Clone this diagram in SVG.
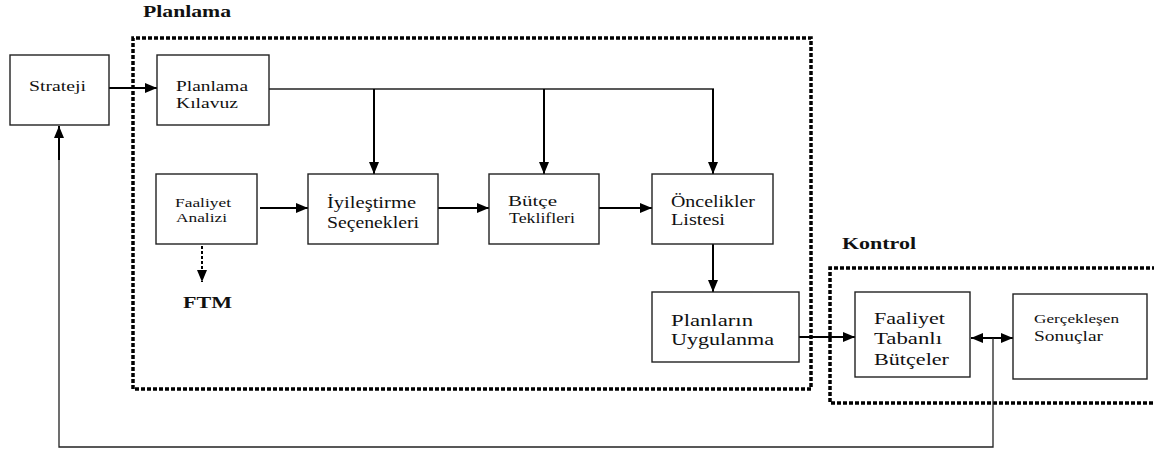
<svg xmlns="http://www.w3.org/2000/svg" width="1154" height="453" viewBox="0 0 1154 453">
  <defs>
    <marker id="ah" viewBox="0 0 12 10" refX="12" refY="5" markerWidth="12" markerHeight="10" orient="auto-start-reverse" markerUnits="userSpaceOnUse">
      <path d="M0,0 L12,5 L0,10 z" fill="#000"/>
    </marker>
  </defs>
  <style>
    .box { fill: #fff; stroke: #222; stroke-width: 1.4; }
    .frame { fill: none; stroke: #000; stroke-width: 3.5; stroke-dasharray: 4 2; }
    .t { font-family: "Liberation Serif", "DejaVu Serif", "Times New Roman", serif; fill: #111; }
    .title { font-family: "Liberation Serif", "DejaVu Serif", "Times New Roman", serif; font-weight: bold; fill: #111; }
    .arr { fill: none; stroke: #000; stroke-width: 2; }
    .thin { fill: none; stroke: #222; stroke-width: 1.3; }
  </style>

  <rect width="1154" height="453" fill="#fff"/>

  <!-- section frames -->
  <g id="frame-planlama">
    <path class="frame" d="M133,389 L133,38 L811,38 L811,389 Z"/>
    <text class="title" font-family="Liberation Serif, DejaVu Serif, serif" x="143" y="17" font-size="16" textLength="88" lengthAdjust="spacingAndGlyphs">Planlama</text>
  </g>
  <g id="frame-kontrol">
    <path class="frame" d="M1156,268 L830,268 L830,403 L1156,403"/>
    <text class="title" font-family="Liberation Serif, DejaVu Serif, serif" x="842" y="249" font-size="16" textLength="74" lengthAdjust="spacingAndGlyphs">Kontrol</text>
  </g>

  <!-- connectors -->
  <g id="connectors">
    <line class="arr" x1="109" y1="88" x2="157" y2="88" marker-end="url(#ah)"/>
    <line class="thin" x1="269" y1="89" x2="714" y2="89"/>
    <line class="arr" x1="374" y1="89" x2="374" y2="174" marker-end="url(#ah)"/>
    <line class="arr" x1="544" y1="89" x2="544" y2="174" marker-end="url(#ah)"/>
    <line class="arr" x1="713" y1="89" x2="713" y2="174" marker-end="url(#ah)"/>
    <line class="arr" x1="260" y1="208" x2="308" y2="208" marker-end="url(#ah)"/>
    <line class="arr" x1="438" y1="208" x2="489" y2="208" marker-end="url(#ah)"/>
    <line class="arr" x1="599" y1="208" x2="652" y2="208" marker-end="url(#ah)"/>
    <line class="arr" x1="713" y1="244" x2="713" y2="292" marker-end="url(#ah)"/>
    <line class="arr" x1="202" y1="246" x2="202" y2="282" stroke-width="3" stroke-dasharray="3 2" marker-end="url(#ah)"/>
    <line class="arr" x1="799" y1="337" x2="855" y2="337" marker-end="url(#ah)"/>
    <line class="arr" x1="971" y1="338" x2="1013" y2="338" marker-start="url(#ah)" marker-end="url(#ah)"/>
    <path class="thin" stroke-width="1.6" d="M993,338 L993,447 L59,447 L59,140"/>
    <line class="arr" x1="59" y1="160" x2="59" y2="126" marker-end="url(#ah)"/>
  </g>

  <!-- nodes -->
  <g id="strateji">
    <rect class="box" x="10" y="55" width="99" height="70"/>
    <text class="t" x="29" y="91" font-size="15" textLength="57" lengthAdjust="spacingAndGlyphs">Strateji</text>
  </g>
  <g id="planlama-kilavuz">
    <rect class="box" x="157" y="55" width="112" height="70"/>
    <text class="t" x="176" y="91" font-size="15" textLength="72" lengthAdjust="spacingAndGlyphs">Planlama</text>
    <text class="t" x="176" y="108" font-size="15" textLength="62" lengthAdjust="spacingAndGlyphs">Kılavuz</text>
  </g>
  <g id="faaliyet-analizi">
    <rect class="box" x="156" y="174" width="101" height="70"/>
    <text class="t" x="175" y="207" font-size="13" textLength="56" lengthAdjust="spacingAndGlyphs">Faaliyet</text>
    <text class="t" x="176" y="222" font-size="13" textLength="51" lengthAdjust="spacingAndGlyphs">Analizi</text>
  </g>
  <g id="ftm">
    <text class="title" x="183" y="308" font-size="16" textLength="49" lengthAdjust="spacingAndGlyphs">FTM</text>
  </g>
  <g id="iyilestirme">
    <rect class="box" x="308" y="174" width="130" height="70"/>
    <text class="t" x="327" y="208" font-size="16" textLength="89" lengthAdjust="spacingAndGlyphs">İyileştirme</text>
    <text class="t" x="327" y="228" font-size="16" textLength="92" lengthAdjust="spacingAndGlyphs">Seçenekleri</text>
  </g>
  <g id="butce-teklifleri">
    <rect class="box" x="489" y="174" width="110" height="70"/>
    <text class="t" x="508" y="206" font-size="14" textLength="49" lengthAdjust="spacingAndGlyphs">Bütçe</text>
    <text class="t" x="509" y="223" font-size="14" textLength="66" lengthAdjust="spacingAndGlyphs">Teklifleri</text>
  </g>
  <g id="oncelikler">
    <rect class="box" x="652" y="174" width="121" height="70"/>
    <text class="t" x="671" y="207" font-size="16" textLength="84" lengthAdjust="spacingAndGlyphs">Öncelikler</text>
    <text class="t" x="671" y="225" font-size="16" textLength="54" lengthAdjust="spacingAndGlyphs">Listesi</text>
  </g>
  <g id="planlarin-uygulanma">
    <rect class="box" x="652" y="292" width="147" height="70"/>
    <text class="t" x="671" y="326" font-size="17" textLength="82" lengthAdjust="spacingAndGlyphs">Planların</text>
    <text class="t" x="671" y="345" font-size="17" textLength="103" lengthAdjust="spacingAndGlyphs">Uygulanma</text>
  </g>
  <g id="faaliyet-tabanli">
    <rect class="box" x="855" y="292" width="115" height="85"/>
    <text class="t" x="874" y="324" font-size="16" textLength="71" lengthAdjust="spacingAndGlyphs">Faaliyet</text>
    <text class="t" x="874" y="344" font-size="16" textLength="68" lengthAdjust="spacingAndGlyphs">Tabanlı</text>
    <text class="t" x="874" y="365" font-size="16" textLength="75" lengthAdjust="spacingAndGlyphs">Bütçeler</text>
  </g>
  <g id="gerceklesen">
    <rect class="box" x="1013" y="294" width="134" height="85"/>
    <text class="t" x="1034" y="323" font-size="13" textLength="85" lengthAdjust="spacingAndGlyphs">Gerçekleşen</text>
    <text class="t" x="1034" y="341" font-size="15" textLength="69" lengthAdjust="spacingAndGlyphs">Sonuçlar</text>
  </g>
</svg>
